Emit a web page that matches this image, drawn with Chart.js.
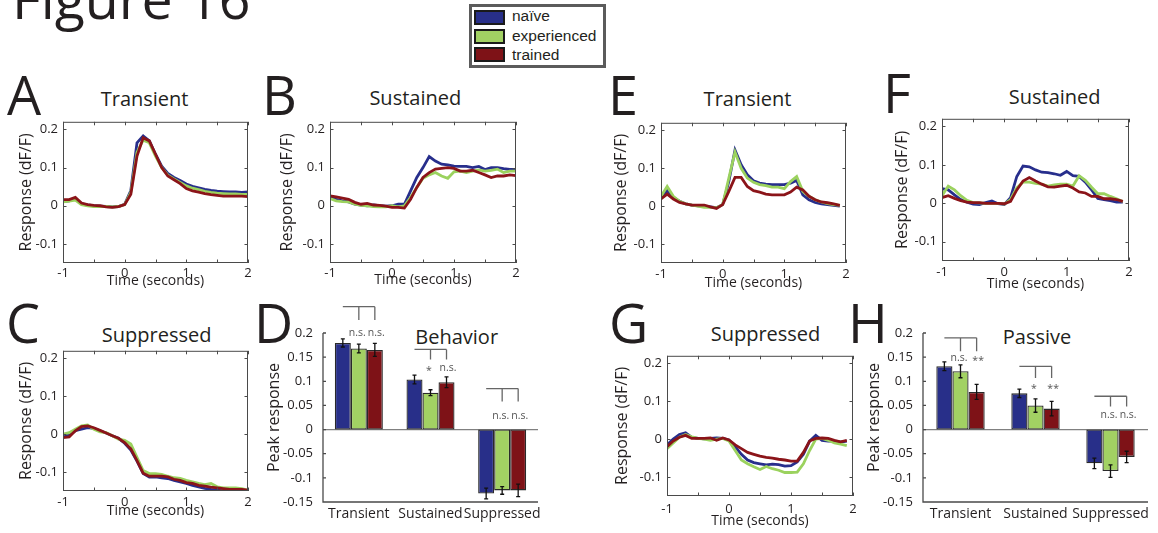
<!DOCTYPE html>
<html>
<head>
<meta charset="utf-8">
<script src="https://cdn.jsdelivr.net/npm/chart.js@4.4.0/dist/chart.umd.min.js"></script>
<style>
  body { margin: 0; width: 1158px; height: 533px; overflow: hidden; position: relative; background: #fff; }
  canvas { position: absolute; }
  .txt { position: absolute; line-height: 0; white-space: nowrap; color: #231f20; font-family: 'Open Sans', sans-serif; }
  .sw { position: absolute; box-sizing: border-box; border: 2px solid #1a1a1a; width: 31px; height: 15px; }
</style>
</head>
<body>
<div id="legend" style="position:absolute;left:469px;top:4px;width:137px;height:64px;box-sizing:border-box;border:3px solid #5b5b5b;background:#fff"></div>
<script>
// ---- data ----
const GROUPS = ['naïve', 'experienced', 'trained'];
const CATS = ['Transient', 'Sustained', 'Suppressed'];
const LINE_COLORS = ['#272e8c', '#9bd25e', '#8b1419'];
const BAR_COLORS = ['#282f89', '#a2d163', '#7e1217'];

const lineXTicks = [-1, -0.5, 0, 0.5, 1, 1.5, 2];
const lineYTicks = [-0.1, 0, 0.1, 0.2];
const barYTicks = [-0.15, -0.1, -0.05, 0, 0.05, 0.1, 0.15, 0.2];

// time points (s)
const tBehavior = [-1, -0.9, -0.8, -0.7, -0.6, -0.5, -0.4, -0.3, -0.2, -0.1, 0, 0.1, 0.2, 0.3, 0.4, 0.5, 0.6, 0.7, 0.8, 0.9, 1, 1.1, 1.2, 1.3, 1.4, 1.5, 1.6, 1.7, 1.8, 1.9, 2];
const tPassive = [-1, -0.9, -0.8, -0.7, -0.6, -0.5, -0.4, -0.3, -0.2, -0.1, 0, 0.1, 0.2, 0.3, 0.4, 0.5, 0.6, 0.7, 0.8, 0.9, 1, 1.1, 1.2, 1.3, 1.4, 1.5, 1.6, 1.7, 1.8, 1.9];

// A - transient (behavior)
const aNaive = [0.011, 0.013, 0.018, 0.005, 0.002, 0.000, -0.001, -0.002, -0.003, -0.002, 0.004, 0.040, 0.165, 0.183, 0.170, 0.135, 0.104, 0.085, 0.074, 0.066, 0.057, 0.051, 0.047, 0.043, 0.040, 0.038, 0.037, 0.036, 0.036, 0.035, 0.036];
const aExp = [0.010, 0.012, 0.015, 0.003, 0.000, -0.002, -0.002, -0.002, -0.003, -0.002, 0.003, 0.035, 0.140, 0.172, 0.165, 0.130, 0.100, 0.080, 0.070, 0.061, 0.052, 0.046, 0.042, 0.038, 0.035, 0.033, 0.032, 0.031, 0.031, 0.030, 0.030];
const aTrained = [0.016, 0.016, 0.022, 0.007, 0.003, 0.001, 0.000, -0.003, -0.004, -0.002, 0.003, 0.030, 0.130, 0.178, 0.170, 0.135, 0.100, 0.078, 0.068, 0.058, 0.045, 0.039, 0.036, 0.032, 0.029, 0.027, 0.025, 0.025, 0.025, 0.025, 0.024];

// B - sustained (behavior)
const bNaive = [0.023, 0.017, 0.013, 0.010, 0.004, 0.002, 0.000, 0.002, 0.000, -0.001, 0.000, 0.004, 0.004, 0.039, 0.074, 0.100, 0.129, 0.117, 0.109, 0.107, 0.104, 0.103, 0.103, 0.100, 0.103, 0.095, 0.100, 0.100, 0.097, 0.095, 0.095];
const bExp = [0.019, 0.013, 0.011, 0.010, 0.004, 0.001, 0.000, -0.002, -0.003, -0.003, 0.000, -0.003, 0.000, 0.022, 0.048, 0.072, 0.081, 0.087, 0.078, 0.072, 0.089, 0.091, 0.087, 0.091, 0.094, 0.091, 0.093, 0.096, 0.087, 0.091, 0.091];
const bTrained = [0.026, 0.023, 0.020, 0.017, 0.009, 0.004, 0.006, 0.002, 0.001, -0.001, -0.004, -0.004, -0.006, 0.017, 0.048, 0.074, 0.087, 0.096, 0.098, 0.100, 0.098, 0.091, 0.091, 0.093, 0.087, 0.081, 0.074, 0.078, 0.078, 0.081, 0.079];

// C - suppressed (behavior)
const cNaive = [-0.007, -0.002, 0.009, 0.013, 0.017, 0.015, 0.009, 0.003, -0.004, -0.011, -0.024, -0.042, -0.071, -0.104, -0.113, -0.113, -0.115, -0.117, -0.122, -0.126, -0.130, -0.135, -0.139, -0.143, -0.146, -0.148, -0.150, -0.153, -0.155, -0.156, -0.157];
const cExp = [0.000, 0.004, 0.013, 0.022, 0.024, 0.013, 0.006, 0.004, -0.004, -0.013, -0.016, -0.026, -0.061, -0.096, -0.104, -0.104, -0.106, -0.111, -0.115, -0.117, -0.122, -0.126, -0.130, -0.133, -0.130, -0.139, -0.142, -0.142, -0.142, -0.144, -0.148];
const cTrained = [-0.009, -0.007, 0.009, 0.020, 0.022, 0.017, 0.010, 0.003, -0.004, -0.011, -0.022, -0.039, -0.070, -0.103, -0.111, -0.111, -0.111, -0.113, -0.119, -0.122, -0.128, -0.130, -0.135, -0.137, -0.140, -0.142, -0.144, -0.146, -0.146, -0.146, -0.148];

// E - transient (passive)
const eNaive = [0.022, 0.041, 0.023, 0.013, 0.006, 0.003, 0.001, 0.000, -0.002, -0.004, 0.004, 0.065, 0.148, 0.109, 0.083, 0.067, 0.061, 0.058, 0.057, 0.057, 0.057, 0.061, 0.068, 0.030, 0.017, 0.010, 0.006, 0.004, 0.002, 0.000];
const eExp = [0.026, 0.052, 0.026, 0.013, 0.006, 0.003, 0.000, -0.003, -0.003, -0.004, 0.004, 0.074, 0.143, 0.100, 0.074, 0.063, 0.057, 0.054, 0.050, 0.050, 0.046, 0.065, 0.078, 0.039, 0.026, 0.017, 0.011, 0.007, 0.004, 0.002];
const eTrained = [0.019, 0.032, 0.019, 0.010, 0.006, 0.003, 0.003, 0.003, -0.002, -0.006, 0.004, 0.039, 0.076, 0.076, 0.052, 0.041, 0.037, 0.032, 0.030, 0.030, 0.030, 0.037, 0.050, 0.043, 0.026, 0.017, 0.011, 0.009, 0.006, 0.002];

// F - sustained (passive)
const fNaive = [0.038, 0.035, 0.022, 0.010, 0.003, -0.002, -0.003, 0.002, 0.006, -0.001, -0.003, 0.015, 0.070, 0.097, 0.095, 0.087, 0.081, 0.080, 0.077, 0.073, 0.083, 0.072, 0.070, 0.055, 0.035, 0.013, 0.010, 0.007, 0.003, 0.003];
const fExp = [0.020, 0.045, 0.035, 0.020, 0.008, 0.002, 0.001, 0.000, 0.000, 0.000, -0.002, 0.010, 0.040, 0.055, 0.055, 0.052, 0.050, 0.045, 0.048, 0.050, 0.050, 0.045, 0.072, 0.060, 0.042, 0.025, 0.025, 0.018, 0.012, 0.005];
const fTrained = [0.015, 0.020, 0.013, 0.007, 0.003, 0.002, 0.002, 0.000, 0.000, 0.000, -0.001, 0.005, 0.035, 0.058, 0.067, 0.058, 0.050, 0.043, 0.042, 0.045, 0.047, 0.040, 0.030, 0.027, 0.018, 0.018, 0.012, 0.012, 0.010, 0.005];

// G - suppressed (passive)
const gNaive = [-0.015, 0.000, 0.012, 0.017, 0.005, 0.002, 0.001, 0.002, 0.003, 0.002, -0.002, -0.020, -0.040, -0.055, -0.062, -0.065, -0.068, -0.066, -0.067, -0.071, -0.070, -0.060, -0.040, -0.005, 0.010, -0.003, -0.005, -0.005, -0.008, -0.005];
const gExp = [-0.025, -0.010, 0.005, 0.012, 0.006, 0.002, 0.000, -0.003, 0.000, 0.002, -0.005, -0.030, -0.055, -0.065, -0.073, -0.080, -0.072, -0.078, -0.082, -0.088, -0.088, -0.087, -0.065, -0.030, 0.000, 0.002, -0.003, -0.010, -0.013, -0.017];
const gTrained = [-0.020, -0.005, 0.005, 0.010, 0.002, 0.002, 0.002, 0.003, -0.003, 0.003, -0.002, -0.015, -0.025, -0.035, -0.040, -0.045, -0.048, -0.050, -0.053, -0.055, -0.058, -0.058, -0.035, -0.005, 0.002, 0.003, 0.002, -0.003, -0.007, -0.003];

// D - peak response, behavior
const dNaive = [0.1795, 0.1037, -0.1324];
const dNaiveErr = [0.0085, 0.009, 0.011];
const dExp = [0.168, 0.0765, -0.126];
const dExpErr = [0.009, 0.006, 0.008];
const dTrained = [0.165, 0.098, -0.126];
const dTrainedErr = [0.0135, 0.011, 0.013];
const dSigTop = [0.2546, 0.166, 0.085];
const dSigDrop = [0.227, 0.145, 0.058];
const dSigLabelY = [0.2, 0.128, 0.029];
const dSigLabels = [['n.s.', 'n.s.'], ['*', 'n.s.'], ['n.s.', 'n.s.']];

// H - peak response, passive
const hNaive = [0.131, 0.075, -0.070];
const hNaiveErr = [0.009, 0.0086, 0.0107];
const hExp = [0.1207, 0.0497, -0.086];
const hExpErr = [0.0134, 0.0138, 0.0128];
const hTrained = [0.078, 0.0434, -0.0566];
const hTrainedErr = [0.0155, 0.015, 0.0117];
const hSigTop = [0.19, 0.131, 0.069];
const hSigDrop = [0.162, 0.107, 0.048];
const hSigLabelY = [0.148, 0.091, 0.031];
const hSigLabels = [['n.s.', '**'], ['*', '**'], ['n.s.', 'n.s.']];

// ---- helpers ----
const INK = '#231f20';
const FONT = "'Open Sans', sans-serif";

function addText(str, x, base, size, center, family, asc) {
  const d = document.createElement('div');
  d.className = 'txt';
  d.textContent = str;
  const a = asc === undefined ? 0.388 : asc;
  d.style.left = x + 'px';
  d.style.top = (base - a * size) + 'px';
  d.style.fontSize = size + 'px';
  if (family) d.style.fontFamily = family;
  if (center) d.style.transform = 'translateX(-50%)';
  document.body.appendChild(d);
}

function makeCanvas(x, y, w, h) {
  const c = document.createElement('canvas');
  c.width = w; c.height = h;
  c.style.left = x + 'px'; c.style.top = y + 'px';
  c.style.width = w + 'px'; c.style.height = h + 'px';
  document.body.appendChild(c);
  return c;
}

// matlab style box with inward ticks
const boxTicks = {
  id: 'boxTicks',
  afterDraw(chart) {
    const { ctx, chartArea: a, scales: { x, y } } = chart;
    ctx.save();
    ctx.strokeStyle = '#4a4a4a';
    ctx.lineWidth = 1;
    ctx.strokeRect(a.left + 0.5, a.top + 0.5, a.width - 1, a.height - 1);
    const len = 3.5;
    ctx.beginPath();
    x.ticks.forEach(t => {
      const px = Math.round(x.getPixelForValue(t.value)) + 0.5;
      ctx.moveTo(px, a.bottom); ctx.lineTo(px, a.bottom - len);
      ctx.moveTo(px, a.top); ctx.lineTo(px, a.top + len);
    });
    y.ticks.forEach(t => {
      const py = Math.round(y.getPixelForValue(t.value)) + 0.5;
      ctx.moveTo(a.left, py); ctx.lineTo(a.left + len, py);
      ctx.moveTo(a.right, py); ctx.lineTo(a.right - len, py);
    });
    ctx.stroke();
    ctx.restore();
  }
};

// bar chart axes: left + bottom lines, zero line, inward y ticks
const barAxes = {
  id: 'barAxes',
  beforeDatasetsDraw(chart) {
    const { ctx, chartArea: a, scales: { y } } = chart;
    ctx.save();
    ctx.strokeStyle = '#808080';
    ctx.lineWidth = 1.2;
    const z = y.getPixelForValue(0);
    ctx.beginPath(); ctx.moveTo(a.left, z); ctx.lineTo(a.right, z); ctx.stroke();
    ctx.strokeStyle = '#4a4a4a';
    ctx.lineWidth = 1.3;
    ctx.beginPath();
    ctx.moveTo(a.left, a.top); ctx.lineTo(a.left, a.bottom); ctx.lineTo(a.right, a.bottom);
    y.ticks.forEach(t => {
      const py = y.getPixelForValue(t.value);
      ctx.moveTo(a.left, py); ctx.lineTo(a.left + 3, py);
    });
    ctx.stroke();
    ctx.restore();
  }
};

const errorBars = {
  id: 'errorBars',
  afterDatasetsDraw(chart) {
    const { ctx, scales: { y } } = chart;
    ctx.save();
    ctx.strokeStyle = '#111';
    ctx.lineWidth = 1.3;
    chart.data.datasets.forEach((ds, i) => {
      chart.getDatasetMeta(i).data.forEach((bar, j) => {
        const v = ds.data[j], e = ds.errors[j];
        const y1 = y.getPixelForValue(v - e), y2 = y.getPixelForValue(v + e);
        ctx.beginPath();
        ctx.moveTo(bar.x, y1); ctx.lineTo(bar.x, y2);
        ctx.moveTo(bar.x - 2, y1); ctx.lineTo(bar.x + 2, y1);
        ctx.moveTo(bar.x - 2, y2); ctx.lineTo(bar.x + 2, y2);
        ctx.stroke();
      });
    });
    ctx.restore();
  }
};

const sigBrackets = {
  id: 'sigBrackets',
  afterDraw(chart, args, opts) {
    const { ctx, scales: { y } } = chart;
    const m = [0, 1, 2].map(i => chart.getDatasetMeta(i).data);
    ctx.save();
    ctx.strokeStyle = '#666';
    ctx.lineWidth = 1.3;
    ctx.fillStyle = '#555';
    ctx.font = "10.5px 'Open Sans'";
    ctx.textAlign = 'center';
    ctx.textBaseline = 'middle';
    CATS.forEach((c, j) => {
      const x0 = m[0][j].x, x1 = m[1][j].x, x2 = m[2][j].x;
      const yt = y.getPixelForValue(opts.top[j]);
      const yd = y.getPixelForValue(opts.drop[j]);
      ctx.beginPath();
      ctx.moveTo(x0, yt); ctx.lineTo(x2, yt);
      ctx.moveTo(x1, yt); ctx.lineTo(x1, yd);
      ctx.moveTo(x2, yt); ctx.lineTo(x2, yd);
      ctx.stroke();
      const yl = y.getPixelForValue(opts.labelY[j]);
      [x1 - 1.5, x2 + 1.5].forEach((xx, k) => {
        const s = opts.labels[j][k];
        ctx.fillText(s, xx, s.startsWith('*') ? yl + 3 : yl);
      });
    });
    ctx.restore();
  }
};

function lineChart(p) {
  const [l, t, r, b] = p.box;
  const padTop = 12, padRight = 12;
  const yW = Math.round(p.yGap + 9.6);
  const xH = Math.round(p.xTitle + 8.4);
  const w = yW + (r - l) + padRight;
  const h = padTop + (b - t) + xH;
  const c = makeCanvas(l - yW, t - padTop, w, h);
  new Chart(c, {
    type: 'line',
    data: {
      datasets: p.series.map((s, i) => ({
        label: GROUPS[i],
        data: p.t.map((tt, j) => ({ x: tt, y: s[j] })),
        borderColor: LINE_COLORS[i],
        borderWidth: 2.8,
        pointRadius: 0,
        tension: 0,
        fill: false,
        order: 3 - i
      }))
    },
    options: {
      responsive: false, animation: false, events: [],
      layout: { padding: { top: padTop, right: padRight, left: 0, bottom: 0 } },
      plugins: { legend: { display: false }, tooltip: { enabled: false } },
      scales: {
        x: {
          type: 'linear', min: -1, max: 2,
          grid: { display: false, drawTicks: false }, border: { display: false },
          afterBuildTicks: s => { s.ticks = lineXTicks.map(v => ({ value: v })); },
          ticks: { autoSkip: false, maxRotation: 0, padding: p.tickPad, color: INK, font: { family: FONT, size: 13 },
                   callback: v => Number.isInteger(v) ? String(v) : '' },
          title: { display: true, text: 'Time (seconds)', padding: 0, color: INK, font: { family: FONT, size: 14 } },
          afterFit: s => { s.height = xH; }
        },
        y: {
          min: -0.15, max: 0.22,
          grid: { display: false, drawTicks: false }, border: { display: false },
          afterBuildTicks: s => { s.ticks = lineYTicks.map(v => ({ value: v })); },
          ticks: { autoSkip: false, padding: 5, color: INK, font: { family: FONT, size: 13 }, callback: v => String(v) },
          title: { display: true, text: 'Response (dF/F)', padding: 0, color: INK, font: { family: FONT, size: 16 } },
          afterFit: s => { s.width = yW; }
        }
      }
    },
    plugins: [boxTicks]
  });
}

function barChart(p) {
  const [l, t, r, b] = p.box;
  const padTop = 40, padRight = 8;
  const yW = Math.round(p.yGap + 9.6);
  const xH = 26;
  const w = yW + (r - l) + padRight;
  const h = padTop + (b - t) + xH;
  const c = makeCanvas(l - yW, t - padTop, w, h);
  new Chart(c, {
    type: 'bar',
    data: {
      labels: CATS,
      datasets: p.values.map((v, i) => ({
        label: GROUPS[i],
        data: v,
        errors: p.errors[i],
        backgroundColor: BAR_COLORS[i],
        borderColor: '#2a2a2a',
        borderWidth: 1.3,
        borderSkipped: false,
        barPercentage: 1,
        categoryPercentage: p.catPct
      }))
    },
    options: {
      responsive: false, animation: false, events: [],
      layout: { padding: { top: padTop, right: padRight, left: 0, bottom: 0 } },
      plugins: { legend: { display: false }, tooltip: { enabled: false }, sigBrackets: p.sig },
      scales: {
        x: {
          grid: { display: false, drawTicks: false }, border: { display: false },
          ticks: { autoSkip: false, maxRotation: 0, minRotation: 0, padding: 4, color: INK, font: { family: FONT, size: 14 } },
          afterFit: s => { s.height = xH; }
        },
        y: {
          min: -0.15, max: 0.2,
          grid: { display: false, drawTicks: false }, border: { display: false },
          afterBuildTicks: s => { s.ticks = barYTicks.map(v => ({ value: v })); },
          ticks: { autoSkip: false, padding: 10, color: INK, font: { family: FONT, size: 13 }, callback: v => String(v) },
          title: { display: true, text: 'Peak response', padding: 0, color: INK, font: { family: FONT, size: 16 } },
          afterFit: s => { s.width = yW; }
        }
      }
    },
    plugins: [barAxes, errorBars, sigBrackets]
  });
}

// ---- page ----
addText('Figure 16', 12, 20, 55.5);

// legend
const lg = [[10, 21.5], [28.5, 41], [47, 60.5]];
GROUPS.forEach((g, i) => {
  const s = document.createElement('div');
  s.className = 'sw';
  s.style.left = '474px';
  s.style.top = lg[i][0] + 'px';
  s.style.background = BAR_COLORS[i];
  document.body.appendChild(s);
  addText(g, 512, lg[i][1], 15.5, false, "'Liberation Sans', Arial, sans-serif", 0.3465);
});

// panel letters
[['A', 7, 115], ['B', 262, 115], ['C', 6, 343], ['D', 254, 343],
 ['E', 608, 115], ['F', 883, 113], ['G', 609, 343], ['H', 848, 343]]
  .forEach(([s, x, y]) => addText(s, x, y, 54));

// panel titles
[['Transient', 144.6, 107], ['Sustained', 415.3, 106], ['Suppressed', 156.7, 342.5],
 ['Transient', 747.5, 106.5], ['Sustained', 1054.7, 104.3], ['Suppressed', 765.5, 341.7],
 ['Behavior', 456.7, 345], ['Passive', 1037, 345]]
  .forEach(([s, x, y]) => addText(s, x, y, 20, true));

lineChart({ t: tBehavior, series: [aNaive, aExp, aTrained], box: [63, 121, 248, 263], yGap: 36, tickPad: 2, xTitle: 18 });
lineChart({ t: tBehavior, series: [bNaive, bExp, bTrained], box: [330, 121, 516, 263], yGap: 42, tickPad: 2, xTitle: 17 });
lineChart({ t: tBehavior, series: [cNaive, cExp, cTrained], box: [63, 350, 248, 491], yGap: 36, tickPad: 3, xTitle: 20 });
lineChart({ t: tPassive, series: [eNaive, eExp, eTrained], box: [661, 122, 846, 263], yGap: 39, tickPad: 3, xTitle: 20 });
lineChart({ t: tPassive, series: [fNaive, fExp, fTrained], box: [942, 118, 1129, 261], yGap: 39, tickPad: 3, xTitle: 23 });
lineChart({ t: tPassive, series: [gNaive, gExp, gTrained], box: [667, 355, 853, 496], yGap: 44, tickPad: 5, xTitle: 25 });

barChart({
  box: [323, 333, 538, 502], yGap: 48, catPct: 0.67,
  values: [dNaive, dExp, dTrained], errors: [dNaiveErr, dExpErr, dTrainedErr],
  sig: { top: dSigTop, drop: dSigDrop, labelY: dSigLabelY, labels: dSigLabels }
});
barChart({
  box: [923, 333, 1148, 502], yGap: 48, catPct: 0.645,
  values: [hNaive, hExp, hTrained], errors: [hNaiveErr, hExpErr, hTrainedErr],
  sig: { top: hSigTop, drop: hSigDrop, labelY: hSigLabelY, labels: hSigLabels }
});
</script>
</body>
</html>
